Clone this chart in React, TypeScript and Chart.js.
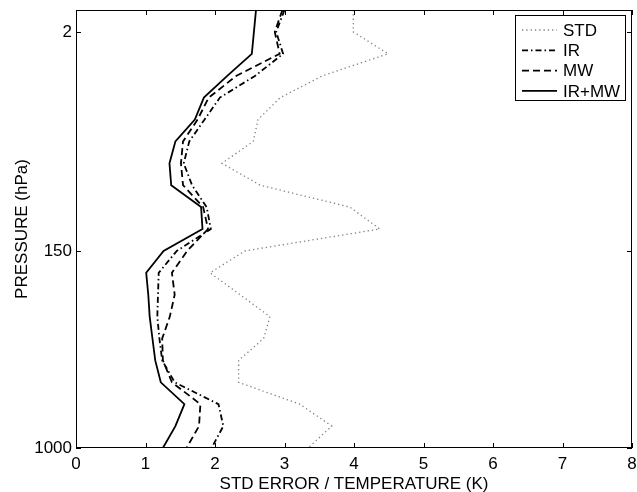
import React, { useEffect, useRef } from 'react';
import { Chart, registerables } from 'chart.js';

Chart.register(...registerables);

// Vertical axis: retrieval level index (top = 0, bottom = 20)
const levels = [0, 1, 2, 3, 4, 5, 6, 7, 8, 9, 10, 11, 12, 13, 14, 15, 16, 17, 18, 19, 20];
const pressureTickLevels = [1, 11, 20];
const pressureTickLabels = ['2', '150', '1000'];
const xTickValues = [0, 1, 2, 3, 4, 5, 6, 7, 8];

// Std error of temperature (K) per level
const stdValues = [3.99, 3.99, 4.49, 3.55, 2.94, 2.62, 2.55, 2.10, 2.65, 3.94, 4.37, 2.43, 1.93, 2.36, 2.79, 2.70, 2.34, 2.34, 3.22, 3.68, 3.34];
const irValues = [3.00, 2.88, 2.98, 2.58, 2.07, 1.85, 1.63, 1.55, 1.67, 1.88, 1.94, 1.45, 1.19, 1.18, 1.17, 1.20, 1.24, 1.42, 2.05, 2.12, 1.95];
const mwValues = [2.97, 2.86, 2.93, 2.31, 1.91, 1.75, 1.54, 1.51, 1.54, 1.83, 1.90, 1.60, 1.38, 1.42, 1.35, 1.24, 1.25, 1.38, 1.79, 1.77, 1.59];
const irmwValues = [2.59, 2.56, 2.53, 2.18, 1.84, 1.71, 1.43, 1.345, 1.37, 1.80, 1.82, 1.26, 1.01, 1.04, 1.06, 1.10, 1.14, 1.22, 1.56, 1.43, 1.25];

const seriesNames = ['STD', 'IR', 'MW', 'IR+MW'];

const FONT = 'Liberation Sans, Arial, Helvetica, sans-serif';

const framePlugin = {
  id: 'frameTicks',
  afterDatasetsDraw(chart: any) {
    const { ctx, chartArea: a, scales } = chart;
    ctx.save();
    ctx.strokeStyle = '#000';
    ctx.lineWidth = 1;
    ctx.setLineDash([]);
    ctx.strokeRect(Math.round(a.left) + 0.5, Math.round(a.top) + 0.5, Math.round(a.right - a.left) - 1, Math.round(a.bottom - a.top) - 1);
    ctx.beginPath();
    const tl = 5;
    for (const v of xTickValues) {
      const px = Math.round(scales.x.getPixelForValue(v)) + 0.5;
      ctx.moveTo(px, a.bottom);
      ctx.lineTo(px, a.bottom - tl);
      ctx.moveTo(px, a.top);
      ctx.lineTo(px, a.top + tl);
    }
    for (const v of pressureTickLevels) {
      const py = Math.round(scales.y.getPixelForValue(v)) + 0.5;
      ctx.moveTo(a.left, py);
      ctx.lineTo(a.left + tl, py);
      ctx.moveTo(a.right, py);
      ctx.lineTo(a.right - tl, py);
    }
    ctx.stroke();
    ctx.restore();
  },
};

const legendPlugin = {
  id: 'boxLegend',
  afterDraw(chart: any) {
    const { ctx, chartArea: a } = chart;
    const boxW = 110;
    const boxH = 85;
    const x0 = a.right - 7 - boxW;
    const y0 = a.top + 5;
    ctx.save();
    ctx.fillStyle = '#fff';
    ctx.fillRect(x0, y0, boxW, boxH);
    ctx.strokeStyle = '#000';
    ctx.lineWidth = 1;
    ctx.setLineDash([]);
    ctx.strokeRect(Math.round(x0) + 0.5, Math.round(y0) + 0.5, boxW, boxH);
    const rowH = 20.3;
    chart.data.datasets.forEach((ds: any, i: number) => {
      const cy = y0 + 15 + i * rowH;
      ctx.beginPath();
      ctx.strokeStyle = ds.borderColor;
      ctx.lineWidth = ds.borderWidth;
      ctx.setLineDash(ds.borderDash || []);
      ctx.moveTo(x0 + 7, cy);
      ctx.lineTo(x0 + 42, cy);
      ctx.stroke();
      ctx.setLineDash([]);
      ctx.fillStyle = '#000';
      ctx.font = `17px ${FONT}`;
      ctx.textBaseline = 'middle';
      ctx.textAlign = 'left';
      ctx.fillText(ds.label, x0 + 48, cy + 1);
    });
    ctx.restore();
  },
};

export default function App() {
  const ref = useRef<HTMLCanvasElement>(null);

  useEffect(() => {
    const mk = (vals: number[]) => levels.map((l, i) => ({ x: vals[i], y: l }));
    const common = { pointRadius: 0, tension: 0, fill: false, showLine: true };
    const chart = new Chart(ref.current as HTMLCanvasElement, {
      type: 'line',
      data: {
        datasets: [
          { ...common, label: seriesNames[0], data: mk(stdValues), borderColor: '#808080', borderWidth: 1.3, borderDash: [1.3, 3] },
          { ...common, label: seriesNames[1], data: mk(irValues), borderColor: '#000', borderWidth: 1.8, borderDash: [6, 3, 1.5, 3] },
          { ...common, label: seriesNames[2], data: mk(mwValues), borderColor: '#000', borderWidth: 1.8, borderDash: [7, 4] },
          { ...common, label: seriesNames[3], data: mk(irmwValues), borderColor: '#000', borderWidth: 1.8, borderDash: [] },
        ] as any,
      },
      options: {
        animation: false,
        responsive: false,
        devicePixelRatio: 1,
        parsing: false as any,
        layout: { padding: { top: 10, right: 5, left: 0, bottom: 0 } },
        plugins: { legend: { display: false }, tooltip: { enabled: false } },
        scales: {
          x: {
            type: 'linear',
            min: 0,
            max: 8,
            grid: { display: false, drawTicks: false },
            border: { display: false },
            afterFit: (s: any) => { s.height = 44; s.paddingLeft = 0; s.paddingRight = 0; },
            ticks: {
              stepSize: 1,
              padding: 6,
              color: '#000',
              font: { family: FONT, size: 17 },
              maxRotation: 0,
            },
            title: {
              display: true,
              text: 'STD ERROR / TEMPERATURE (K)',
              color: '#000',
              font: { family: FONT, size: 17 },
              padding: { top: 0, bottom: -3 },
            },
          },
          y: {
            type: 'linear',
            min: 0,
            max: 20,
            reverse: true,
            grid: { display: false, drawTicks: false },
            border: { display: false },
            afterFit: (s: any) => { s.width = 76; s.paddingTop = 0; s.paddingBottom = 0; },
            afterBuildTicks: (s: any) => { s.ticks = pressureTickLevels.map((v) => ({ value: v })); },
            ticks: {
              padding: 4,
              color: '#000',
              font: { family: FONT, size: 17 },
              callback: (value: any) => {
                const i = pressureTickLevels.indexOf(Number(value));
                return i >= 0 ? pressureTickLabels[i] : '';
              },
            },
            title: {
              display: true,
              text: 'PRESSURE (hPa)',
              color: '#000',
              font: { family: FONT, size: 17 },
              padding: { top: 12, bottom: 0 },
            },
          },
        },
      } as any,
      plugins: [framePlugin, legendPlugin],
    });
    return () => chart.destroy();
  }, []);

  return (
    <div style={{ position: 'absolute', left: 0, top: 0, width: 637, height: 492 }}>
      <canvas ref={ref} width={637} height={492} style={{ display: 'block' }} />
    </div>
  );
}
